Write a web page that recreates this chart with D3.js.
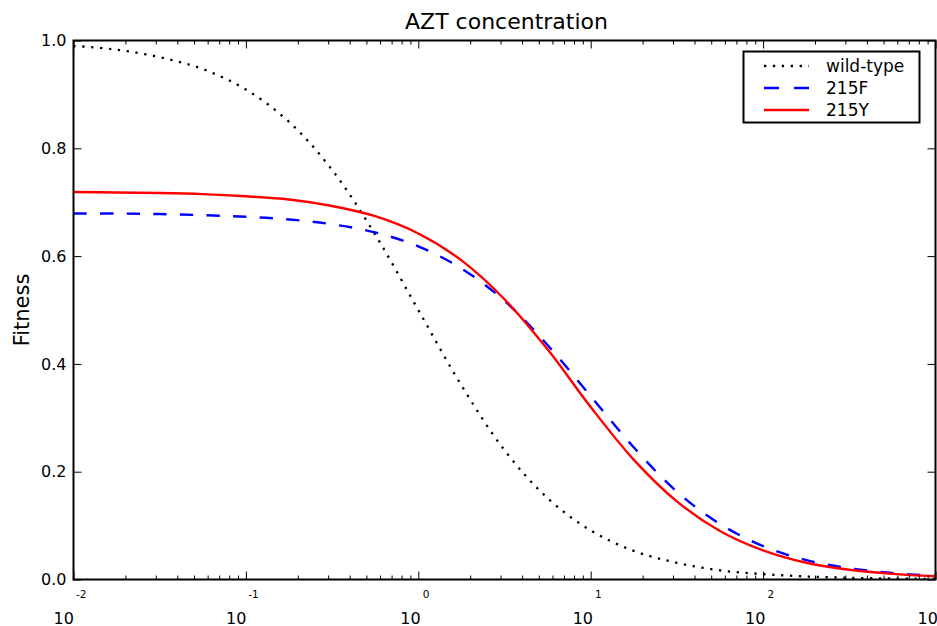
<!DOCTYPE html>
<html>
<head>
<meta charset="utf-8">
<script src="https://cdn.jsdelivr.net/npm/d3@7"></script>
<style>
  body { margin: 0; background: #fff; }
  svg { display: block; }
  text { font-family: "DejaVu Sans", sans-serif; fill: #000; }
</style>
</head>
<body>
<svg id="chart" width="937" height="626"></svg>
<script>
// AZT concentration (log scale) at quarter-decade steps
const concentration = [0.01, 0.0178, 0.0316, 0.0562, 0.1, 0.178, 0.316, 0.562,
  1, 1.78, 3.16, 5.62, 10, 17.8, 31.6, 56.2, 100, 178, 316, 562, 1000];

// Fitness of each genotype at those concentrations
const wildType = [0.990, 0.983, 0.969, 0.947, 0.909, 0.849, 0.760, 0.640,
  0.500, 0.360, 0.240, 0.151, 0.091, 0.053, 0.031, 0.017, 0.010, 0.0056, 0.0032, 0.0018, 0.0010];
const fitness215F = [0.679, 0.679, 0.678, 0.676, 0.673, 0.668, 0.659, 0.644,
  0.618, 0.577, 0.517, 0.435, 0.340, 0.245, 0.163, 0.103, 0.062, 0.036, 0.021, 0.012, 0.0067];
const fitness215Y = [0.719, 0.718, 0.717, 0.715, 0.711, 0.705, 0.693, 0.674,
  0.642, 0.592, 0.520, 0.427, 0.320, 0.222, 0.145, 0.090, 0.054, 0.031, 0.018, 0.0104, 0.0059];

const seriesNames = ["wild-type", "215F", "215Y"];
const xTickExponents = [-2, -1, 0, 1, 2, 3];
const yTickValues = [0.0, 0.2, 0.4, 0.6, 0.8, 1.0];

const plot = { left: 73.5, right: 935.5, top: 40.5, bottom: 579.5 };

const svg = d3.select("#chart");

const x = d3.scaleLog().domain([0.01, 1000]).range([plot.left, plot.right]);
const y = d3.scaleLinear().domain([0, 1]).range([plot.bottom, plot.top]);

// Curves, clipped to the axes box
svg.append("clipPath").attr("id", "plot-clip")
  .append("rect")
  .attr("x", plot.left).attr("y", plot.top)
  .attr("width", plot.right - plot.left).attr("height", plot.bottom - plot.top);

const series = [
  { name: seriesNames[0], values: wildType, color: "#000000", dash: "2.3,6.6", width: 2.3 },
  { name: seriesNames[1], values: fitness215F, color: "#0000ff", dash: "13.3,13.3", width: 2.4 },
  { name: seriesNames[2], values: fitness215Y, color: "#ff0000", dash: null, width: 2.4 }
];

const line = d3.line()
  .x((d, i) => x(concentration[i]))
  .y(d => y(d))
  .curve(d3.curveCatmullRom.alpha(0.5));

const curves = svg.append("g").attr("clip-path", "url(#plot-clip)");
series.forEach(s => {
  curves.append("path")
    .datum(s.values)
    .attr("d", line)
    .attr("fill", "none")
    .attr("stroke", s.color)
    .attr("stroke-width", s.width)
    .attr("stroke-dasharray", s.dash)
    .attr("stroke-linecap", "butt");
});

// Ticks (all pointing into the axes box)
const majorX = xTickExponents.map(e => Math.pow(10, e));
const minorX = [];
for (let e = -2; e < 3; e++) {
  for (let k = 2; k <= 9; k++) minorX.push(k * Math.pow(10, e));
}

function tickAxis(axisGen, values, size, translate) {
  const g = svg.append("g")
    .attr("transform", translate)
    .call(axisGen.tickValues(values).tickSize(size).tickFormat(""));
  g.select(".domain").remove();
  g.selectAll(".tick line").attr("stroke", "#000").attr("stroke-width", 1);
  g.selectAll(".tick text").remove();
  return g;
}

tickAxis(d3.axisBottom(x), majorX, -8, `translate(0,${plot.bottom})`);
tickAxis(d3.axisBottom(x), minorX, -4, `translate(0,${plot.bottom})`);
tickAxis(d3.axisTop(x), majorX, -8, `translate(0,${plot.top})`);
tickAxis(d3.axisTop(x), minorX, -4, `translate(0,${plot.top})`);
tickAxis(d3.axisLeft(y), yTickValues, -8, `translate(${plot.left},0)`);
tickAxis(d3.axisRight(y), yTickValues, -8, `translate(${plot.right},0)`);

// Axes frame
svg.append("rect")
  .attr("x", plot.left).attr("y", plot.top)
  .attr("width", plot.right - plot.left).attr("height", plot.bottom - plot.top)
  .attr("fill", "none").attr("stroke", "#000").attr("stroke-width", 2);

// Y tick labels
svg.append("g").selectAll("text")
  .data(yTickValues)
  .join("text")
  .attr("x", plot.left - 7)
  .attr("y", d => y(d))
  .attr("dy", "0.36em")
  .attr("text-anchor", "end")
  .attr("font-size", 16)
  .text(d => d.toFixed(1));

// X tick labels: base "10" below, exponent raised above it
const xLabels = svg.append("g").selectAll("text")
  .data(xTickExponents)
  .join("text")
  .attr("x", e => x(Math.pow(10, e)) - 3.5)
  .attr("y", 624)
  .attr("text-anchor", "middle");
xLabels.append("tspan").attr("font-size", 16).text("10");
xLabels.append("tspan").attr("font-size", 10.5).attr("dx", 2).attr("dy", -26)
  .text(e => String(e));

// Title and y-axis label
svg.append("text")
  .attr("x", (plot.left + plot.right) / 2 + 2)
  .attr("y", 29)
  .attr("text-anchor", "middle")
  .attr("font-size", 22)
  .text("AZT concentration");

svg.append("text")
  .attr("transform", `translate(29,${(plot.top + plot.bottom) / 2}) rotate(-90)`)
  .attr("text-anchor", "middle")
  .attr("font-size", 21)
  .text("Fitness");

// Legend
const legend = svg.append("g");
legend.append("rect")
  .attr("x", 743.5).attr("y", 51.5).attr("width", 176).attr("height", 71)
  .attr("fill", "#fff").attr("stroke", "#000").attr("stroke-width", 2);
series.forEach((s, i) => {
  const ly = 66 + i * 22;
  legend.append("line")
    .attr("x1", 764).attr("x2", 809).attr("y1", ly).attr("y2", ly)
    .attr("stroke", s.color).attr("stroke-width", s.width)
    .attr("stroke-dasharray", s.dash ? (i === 1 ? "15,15" : s.dash) : null);
  legend.append("text")
    .attr("x", 826).attr("y", ly).attr("dy", "0.36em")
    .attr("font-size", 17)
    .text(s.name);
});
</script>
</body>
</html>
